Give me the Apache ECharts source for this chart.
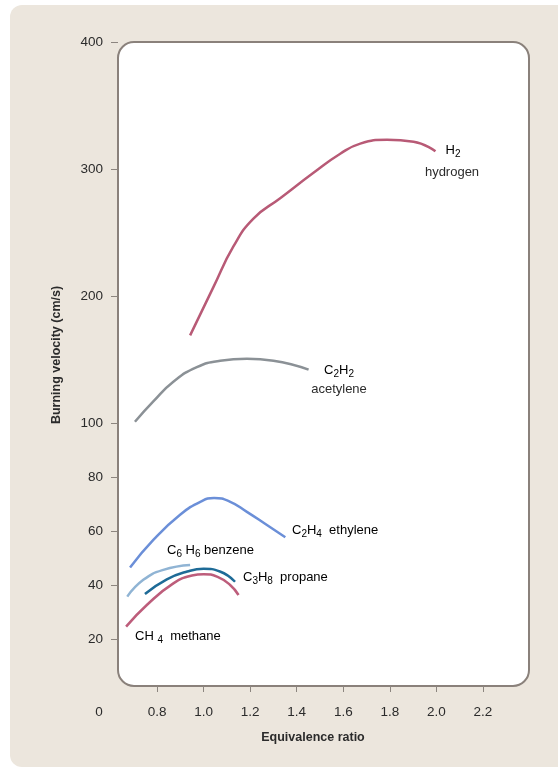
<!DOCTYPE html>
<html><head><meta charset="utf-8">
<script src="https://cdn.jsdelivr.net/npm/echarts@6/dist/echarts.min.js"></script>
<style>html,body{margin:0;padding:0;background:#fff}#c{width:558px;height:769px}</style>
</head><body><div id="c"></div>
<script>
// Data (equivalence ratio, burning velocity cm/s)
var hydrogenX = [0.942, 1.042, 1.128, 1.214, 1.329, 1.472, 1.587, 1.673, 1.788, 1.902, 1.996];
var hydrogenY = [169, 207, 239, 261, 277, 297, 312, 320, 323, 321.5, 314];
var acetyleneX = [0.705, 0.784, 0.870, 0.971, 1.071, 1.186, 1.300, 1.451];
var acetyleneY = [101, 117, 132.5, 144, 149, 150.5, 149, 142];
var ethyleneX = [0.684, 0.784, 0.899, 0.99, 1.045, 1.11, 1.186, 1.272, 1.351];
var ethyleneY = [46.5, 56.7, 66, 71, 72.2, 71, 67.1, 62.2, 57.7];
var benzeneX = [0.672, 0.741, 0.827, 0.942];
var benzeneY = [35.7, 41.9, 45.6, 47.4];
var propaneX = [0.748, 0.842, 0.93, 1.0, 1.07, 1.135];
var propaneY = [36.7, 42.1, 45.0, 46.0, 45.0, 41.2];
var methaneX = [0.667, 0.756, 0.870, 0.95, 1.0, 1.06, 1.114, 1.150];
var methaneY = [24.6, 32.6, 40.6, 43.5, 44.0, 43.0, 40.0, 36.3];
var xTicks = [0.8, 1.0, 1.2, 1.4, 1.6, 1.8, 2.0, 2.2];
var yTicksUpper = [200, 300, 400];
var yTicksLower = [20, 40, 60, 80, 100];

function pairs(xs, ys) { return xs.map(function (x, i) { return [x, ys[i]]; }); }

var FONT = '"Liberation Sans", Arial, Helvetica, sans-serif';
var TXT = '#2b2b2b';
var rich = {
  n: { fontSize: 13, fontFamily: FONT, color: TXT, lineHeight: 18, verticalAlign: 'middle' },
  s: { fontSize: 10, fontFamily: FONT, color: TXT, lineHeight: 18, verticalAlign: 'bottom' }
};
function label(x, y, text, align) {
  return { type: 'text', x: x, y: y, z: 50, style: { text: text, rich: rich, align: align || 'left', verticalAlign: 'middle' } };
}
function plain(x, y, text, align) {
  return { type: 'text', x: x, y: y, z: 50, style: { text: text, font: '13px ' + FONT, fill: TXT, align: align || 'left', verticalAlign: 'middle' } };
}

var chart = echarts.init(document.getElementById('c'), null, { renderer: 'canvas' });
var xCommon = {
  type: 'value', min: 0.6, max: 2.4,
  splitLine: { show: false }, axisLine: { show: false }
};
var yCommon = {
  type: 'value', offset: -7.5, splitLine: { show: false }, axisLine: { show: false },
  axisTick: { show: true, length: 7, lineStyle: { color: '#8c857f', width: 1 } },
  axisLabel: { show: true, margin: 15, fontSize: 13.5, color: TXT, fontFamily: FONT }
};

var lineSeries = function (name, data, color, xi) {
  return { name: name, type: 'line', xAxisIndex: xi, yAxisIndex: xi, data: data, smooth: 0.5, showSymbol: false,
    lineStyle: { color: color, width: 2.5 }, z: 5 };
};

chart.setOption({
  animation: false,
  grid: [
    { left: 110.5, right: 28.5, top: 42, height: 381 },
    { left: 110.5, right: 28.5, top: 423, height: 270 }
  ],
  xAxis: [
    Object.assign({}, xCommon, { gridIndex: 0, axisTick: { show: false }, axisLabel: { show: false } }),
    Object.assign({}, xCommon, { gridIndex: 1, offset: -7,
      axisTick: { show: true, length: 6, customValues: xTicks, lineStyle: { color: '#8c857f' } },
      axisLabel: { show: true, customValues: xTicks, margin: 19, fontSize: 13.5, color: TXT, fontFamily: FONT,
        formatter: function (v) { return v.toFixed(1); } } })
  ],
  yAxis: [
    Object.assign({}, yCommon, { gridIndex: 0, min: 100, max: 400,
      axisTick: Object.assign({}, yCommon.axisTick, { customValues: yTicksUpper }),
      axisLabel: Object.assign({}, yCommon.axisLabel, { customValues: yTicksUpper }) }),
    Object.assign({}, yCommon, { gridIndex: 1, min: 0, max: 100,
      axisTick: Object.assign({}, yCommon.axisTick, { customValues: yTicksLower }),
      axisLabel: Object.assign({}, yCommon.axisLabel, { customValues: yTicksLower }) })
  ],
  graphic: [
    { type: 'rect', z: -20, shape: { x: 10, y: 5, width: 560, height: 762, r: 12 }, style: { fill: '#ece6dd' } },
    { type: 'rect', z: -10, shape: { x: 118, y: 42, width: 411, height: 644, r: 16 }, style: { fill: '#ffffff', stroke: '#8a817b', lineWidth: 2 } },
    { type: 'text', x: 99, y: 712, z: 50, style: { text: '0', font: '13.5px ' + FONT, fill: TXT, align: 'center', verticalAlign: 'middle' } },
    { type: 'text', x: 313, y: 738, z: 50, style: { text: 'Equivalence ratio', font: 'bold 12.5px ' + FONT, fill: TXT, align: 'center', verticalAlign: 'middle' } },
    { type: 'text', x: 57, y: 355, rotation: Math.PI / 2, z: 50, style: { text: 'Burning velocity (cm/s)', font: 'bold 12.5px ' + FONT, fill: TXT, align: 'center', verticalAlign: 'middle' } },
    label(453, 150, '{n|H}{s|2}', 'center'),
    plain(452, 172, 'hydrogen', 'center'),
    label(339, 370, '{n|C}{s|2}{n|H}{s|2}', 'center'),
    plain(339, 389, 'acetylene', 'center'),
    label(292, 530, '{n|C}{s|2}{n|H}{s|4}{n|  ethylene}', 'left'),
    label(167, 550, '{n|C}{s|6}{n| H}{s|6}{n| benzene}', 'left'),
    label(243, 577, '{n|C}{s|3}{n|H}{s|8}{n|  propane}', 'left'),
    label(135, 636, '{n|CH }{s|4}{n|  methane}', 'left')
  ],
  series: [
    lineSeries('H2 hydrogen', pairs(hydrogenX, hydrogenY), '#b85a76', 0),
    lineSeries('C2H2 acetylene', pairs(acetyleneX, acetyleneY), '#8b9196', 0),
    lineSeries('C2H4 ethylene', pairs(ethyleneX, ethyleneY), '#6b8fd8', 1),
    lineSeries('C6H6 benzene', pairs(benzeneX, benzeneY), '#90b4d4', 1),
    lineSeries('C3H8 propane', pairs(propaneX, propaneY), '#1e6b97', 1),
    lineSeries('CH4 methane', pairs(methaneX, methaneY), '#bd5d7b', 1)
  ]
});
</script></body></html>
